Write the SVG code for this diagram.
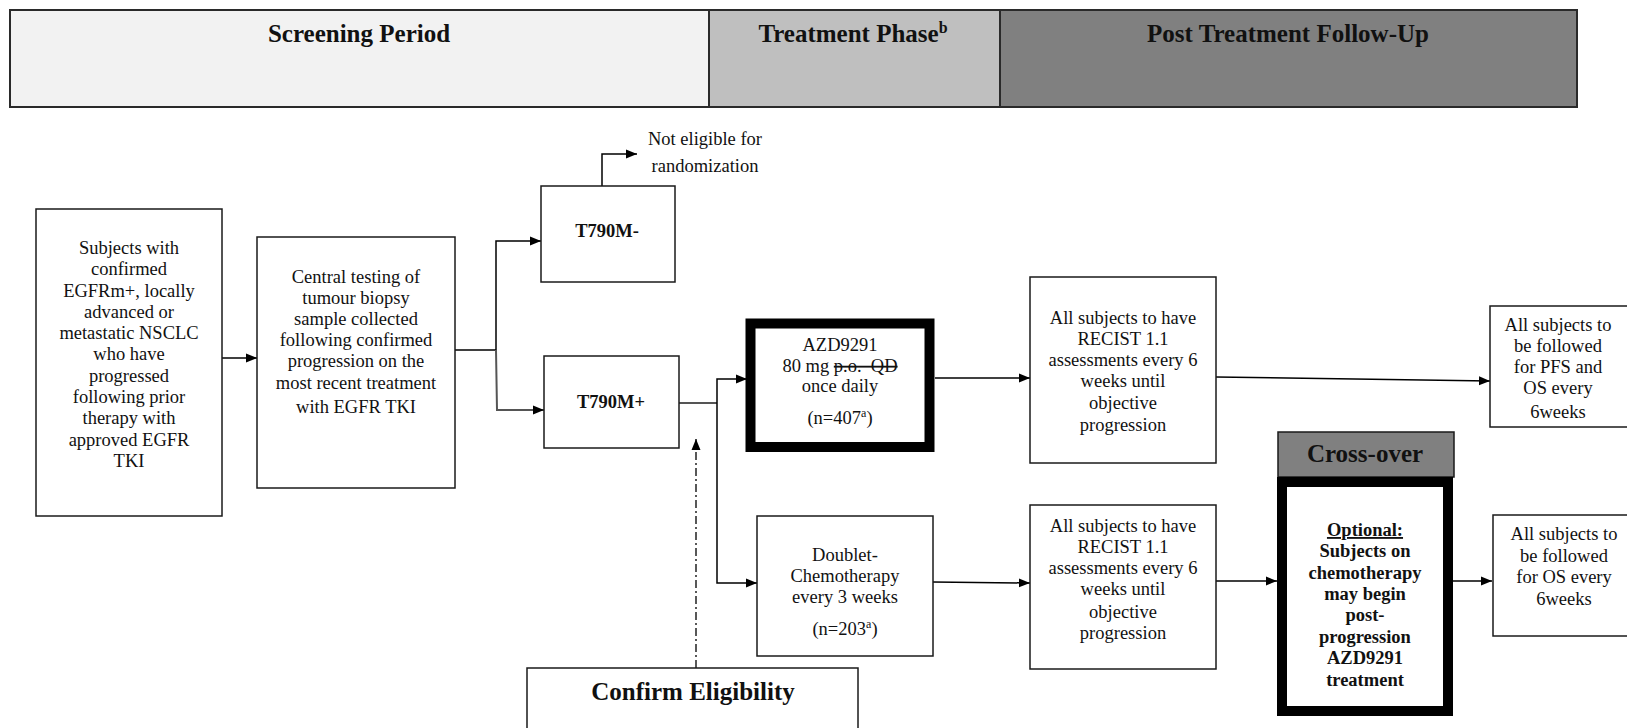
<svg xmlns="http://www.w3.org/2000/svg" width="1627" height="728" viewBox="0 0 1627 728">
<style>
.bg{fill:#fff}
.box{fill:#fff;stroke:#1a1a1a;stroke-width:1.5}
.thick{fill:#fff;stroke:#000;stroke-width:10}
.hdr{stroke:#2a2a2a;stroke-width:2}
.t{font-family:"Liberation Serif","Times New Roman",serif;font-size:18.5px;fill:#111;text-anchor:middle}
.b{font-weight:bold}
.h{font-family:"Liberation Serif","Times New Roman",serif;font-size:25px;font-weight:bold;fill:#111;text-anchor:middle}
.conn{stroke:#000;stroke-width:1.5;fill:none}
.gray{stroke:#555;stroke-width:2;fill:none}
.dd{stroke:#222;stroke-width:1.5;fill:none;stroke-dasharray:8 3 2 3}
</style>
<defs>
<marker id="arr" markerUnits="userSpaceOnUse" markerWidth="12" markerHeight="12" viewBox="0 0 12 12" refX="11" refY="6" orient="auto">
<path d="M0,1.5 L11,6 L0,10.5 Z" fill="#000"/>
</marker>
</defs>
<rect class="bg" x="0" y="0" width="1627" height="728"/>

<g id="header">
<rect class="hdr" x="10" y="10" width="699" height="97" fill="#f2f2f2"/>
<rect class="hdr" x="709" y="10" width="291" height="97" fill="#bfbfbf"/>
<rect class="hdr" x="1000" y="10" width="577" height="97" fill="#808080"/>
<text class="h" x="359" y="42">Screening Period</text>
<text class="h" x="853" y="42">Treatment Phase<tspan font-size="16" dy="-9">b</tspan></text>
<text class="h" x="1288" y="42">Post Treatment Follow-Up</text>
</g>

<g id="connectors">
<line class="conn" x1="222" y1="358" x2="257" y2="358" marker-end="url(#arr)"/>
<polyline class="conn" points="455,350 496,350 496,241 541,241" marker-end="url(#arr)"/>
<polyline class="gray" points="496,350 497,410 544,410" marker-end="url(#arr)"/>
<polyline class="conn" points="602,186 602,154 637,154" marker-end="url(#arr)"/>
<line class="gray" x1="679" y1="403" x2="717" y2="403"/>
<polyline class="conn" points="717,403 717,379 747,379" marker-end="url(#arr)"/>
<polyline class="conn" points="717,403 717,583 757,583" marker-end="url(#arr)"/>
<line class="conn" x1="935" y1="378" x2="1030" y2="378" marker-end="url(#arr)"/>
<line class="conn" x1="1216" y1="377" x2="1490" y2="381" marker-end="url(#arr)"/>
<line class="conn" x1="933" y1="582" x2="1030" y2="583" marker-end="url(#arr)"/>
<line class="conn" x1="1216" y1="581" x2="1277" y2="581" marker-end="url(#arr)"/>
<line class="conn" x1="1453" y1="581" x2="1492" y2="581" marker-end="url(#arr)"/>
<line class="dd" x1="696" y1="668" x2="696" y2="439" marker-end="url(#arr)"/>
</g>

<g id="subjects">
<rect class="box" x="36" y="209" width="186" height="307"/>
<text class="t" x="129" y="254">Subjects with</text>
<text class="t" x="129" y="275">confirmed</text>
<text class="t" x="129" y="297">EGFRm+, locally</text>
<text class="t" x="129" y="318">advanced or</text>
<text class="t" x="129" y="339">metastatic NSCLC</text>
<text class="t" x="129" y="360">who have</text>
<text class="t" x="129" y="382">progressed</text>
<text class="t" x="129" y="403">following prior</text>
<text class="t" x="129" y="424">therapy with</text>
<text class="t" x="129" y="446">approved EGFR</text>
<text class="t" x="129" y="467">TKI</text>
</g>

<g id="central-testing">
<rect class="box" x="257" y="237" width="198" height="251"/>
<text class="t" x="356" y="283">Central testing of</text>
<text class="t" x="356" y="304">tumour biopsy</text>
<text class="t" x="356" y="325">sample collected</text>
<text class="t" x="356" y="346">following confirmed</text>
<text class="t" x="356" y="367">progression on the</text>
<text class="t" x="356" y="389">most recent treatment</text>
<text class="t" x="356" y="413">with EGFR TKI</text>
</g>

<g id="t790m-neg">
<rect class="box" x="541" y="186" width="134" height="96"/>
<text class="t b" x="607" y="237" font-size="20">T790M-</text>
</g>

<g id="not-eligible">
<text class="t" x="705" y="145">Not eligible for</text>
<text class="t" x="705" y="172">randomization</text>
</g>

<g id="t790m-pos">
<rect class="box" x="544" y="356" width="135" height="92"/>
<text class="t b" x="611" y="408" font-size="20">T790M+</text>
</g>

<g id="azd9291">
<rect class="thick" x="750.5" y="323.5" width="179" height="123.5"/>
<text class="t" x="840" y="351">AZD9291</text>
<text class="t" x="840" y="372" style="white-space:pre">80 mg <tspan text-decoration="line-through">p.o.  QD</tspan></text>
<text class="t" x="840" y="392">once daily</text>
<text class="t" x="840" y="424">(n=407<tspan font-size="12" dy="-7">a</tspan><tspan dy="7">)</tspan></text>
</g>

<g id="doublet-chemo">
<rect class="box" x="757" y="516" width="176" height="140"/>
<text class="t" x="845" y="561">Doublet-</text>
<text class="t" x="845" y="582">Chemotherapy</text>
<text class="t" x="845" y="603">every 3 weeks</text>
<text class="t" x="845" y="635">(n=203<tspan font-size="12" dy="-7">a</tspan><tspan dy="7">)</tspan></text>
</g>

<g id="recist-1">
<rect class="box" x="1030" y="277" width="186" height="186"/>
<text class="t" x="1123" y="324">All subjects to have</text>
<text class="t" x="1123" y="345">RECIST 1.1</text>
<text class="t" x="1123" y="366">assessments every 6</text>
<text class="t" x="1123" y="387">weeks until</text>
<text class="t" x="1123" y="409">objective</text>
<text class="t" x="1123" y="431">progression</text>
</g>

<g id="recist-2">
<rect class="box" x="1030" y="505" width="186" height="164"/>
<text class="t" x="1123" y="532">All subjects to have</text>
<text class="t" x="1123" y="553">RECIST 1.1</text>
<text class="t" x="1123" y="574">assessments every 6</text>
<text class="t" x="1123" y="595">weeks until</text>
<text class="t" x="1123" y="618">objective</text>
<text class="t" x="1123" y="639">progression</text>
</g>

<g id="pfs-os">
<rect class="box" x="1490" y="306" width="150" height="121"/>
<text class="t" x="1558" y="331">All subjects to</text>
<text class="t" x="1558" y="352">be followed</text>
<text class="t" x="1558" y="373">for PFS and</text>
<text class="t" x="1558" y="394">OS every</text>
<text class="t" x="1558" y="418">6weeks</text>
</g>

<g id="cross-over">
<rect x="1278" y="432" width="176" height="45" fill="#808080" stroke="#1a1a1a" stroke-width="1.5"/>
<text class="h" x="1365" y="462" font-size="24">Cross-over</text>
<rect class="thick" x="1282" y="482" width="166" height="229"/>
<text class="t b" x="1365" y="536" text-decoration="underline">Optional:</text>
<text class="t b" x="1365" y="557">Subjects on</text>
<text class="t b" x="1365" y="579">chemotherapy</text>
<text class="t b" x="1365" y="600">may begin</text>
<text class="t b" x="1365" y="621">post-</text>
<text class="t b" x="1365" y="643">progression</text>
<text class="t b" x="1365" y="664">AZD9291</text>
<text class="t b" x="1365" y="686">treatment</text>
</g>

<g id="os-follow">
<rect class="box" x="1493" y="515" width="150" height="121"/>
<text class="t" x="1564" y="540">All subjects to</text>
<text class="t" x="1564" y="562">be followed</text>
<text class="t" x="1564" y="583">for OS every</text>
<text class="t" x="1564" y="605">6weeks</text>
</g>

<g id="confirm-eligibility">
<rect class="box" x="527" y="668" width="331" height="80"/>
<text class="h" x="693" y="700" font-size="24">Confirm Eligibility</text>
</g>
</svg>
